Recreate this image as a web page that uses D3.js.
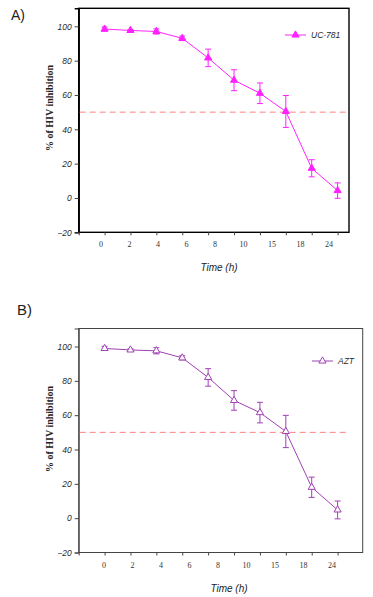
<!DOCTYPE html>
<html>
<head>
<meta charset="utf-8">
<script src="https://cdn.jsdelivr.net/npm/d3@7"></script>
<style>
  body { margin: 0; background: #fff; }
</style>
</head>
<body>
<div id="chart"></div>
<script>
// time points shown on the x axis
const timeLabels = ["0", "2", "4", "6", "8", "10", "15", "18", "24"];
const yTicks = [-20, 0, 20, 40, 60, 80, 100];

// % inhibition, UC-781
const ucMean = [98.4, 97.6, 97.0, 93.0, 81.6, 68.6, 61.0, 50.4, 17.3, 4.3];
const ucErr = [1.2, 0.6, 1.5, 1.3, 5.1, 6.1, 6.0, 9.3, 5.0, 4.5];

// % inhibition, AZT
const aztMean = [98.9, 98.0, 97.5, 93.4, 82.0, 68.6, 61.5, 50.5, 18.0, 4.8];
const aztErr = [1.2, 0.6, 1.8, 1.2, 5.1, 5.7, 6.0, 9.4, 5.9, 5.2];

const svg = d3.select("#chart")
  .append("svg")
    .attr("width", 373)
    .attr("height", 597);

function drawPanel(p) {
  const g = svg.append("g");

  const y = d3.scaleLinear()
      .domain([-20, 110.5])
      .range([p.bottom, p.bottom - 224]);

  // tick slots; the points sit on slots 1..10
  const x = d3.scaleLinear()
      .domain([0, 10.44])
      .range([p.left, p.axisRight]);

  // the printed time labels do not line up with the ticks
  const xl = d3.scalePoint()
      .domain(timeLabels)
      .range(p.labelRange);

  // frame
  g.append("rect")
      .attr("x", p.left)
      .attr("y", y(110.5))
      .attr("width", p.frameRight - p.left)
      .attr("height", p.bottom - y(110.5))
      .attr("fill", "none")
      .attr("stroke", p.frameColor)
      .attr("stroke-width", p.frameWidth);

  // y axis
  const yAxis = g.append("g")
      .attr("transform", "translate(" + p.left + ",0)")
      .call(d3.axisLeft(y).tickValues(yTicks).tickSize(4).tickPadding(3));
  yAxis.select(".domain").attr("stroke", p.frameColor).attr("stroke-width", p.frameWidth);
  yAxis.selectAll(".tick line").attr("stroke", "#444");
  yAxis.selectAll("text")
      .style("font-family", "Liberation Sans, Arial, sans-serif")
      .style("font-style", "italic")
      .style("font-size", "8.5px")
      .attr("fill", "#2a2a2a");

  // x axis ticks
  const xAxis = g.append("g")
      .attr("transform", "translate(0," + p.bottom + ")")
      .call(d3.axisBottom(x).tickValues(d3.range(0, 11)).tickSize(3).tickFormat(""));
  xAxis.select(".domain").remove();
  xAxis.selectAll(".tick line").attr("stroke", "#444");

  g.append("g")
    .selectAll("text")
    .data(timeLabels)
    .enter()
    .append("text")
      .attr("x", d => xl(d))
      .attr("y", p.bottom + 15)
      .attr("text-anchor", "middle")
      .style("font-family", "Liberation Serif, Times New Roman, serif")
      .style("font-size", "8px")
      .attr("fill", "#333")
      .text(d => d);

  // 50% reference line
  g.append("line")
      .attr("x1", p.left + 1)
      .attr("x2", p.axisRight)
      .attr("y1", y(50))
      .attr("y2", y(50))
      .attr("stroke", "#ff8080")
      .attr("stroke-width", 1)
      .attr("stroke-dasharray", "6,4");

  const pts = p.mean.map((m, i) => ({ i: i + 1, m: m, e: p.err[i] }));

  // line
  g.append("path")
      .datum(pts)
      .attr("fill", "none")
      .attr("stroke", p.color)
      .attr("stroke-width", 1)
      .attr("d", d3.line().x(d => x(d.i)).y(d => y(d.m)));

  // error bars
  const eb = g.append("g").attr("stroke", p.color).attr("stroke-width", 1);
  eb.selectAll(".v").data(pts).enter().append("line")
      .attr("x1", d => x(d.i)).attr("x2", d => x(d.i))
      .attr("y1", d => y(d.m - d.e)).attr("y2", d => y(d.m + d.e));
  [-1, 1].forEach(s => {
    eb.selectAll(".c" + s).data(pts).enter().append("line")
        .attr("x1", d => x(d.i) - 3).attr("x2", d => x(d.i) + 3)
        .attr("y1", d => y(d.m + s * d.e)).attr("y2", d => y(d.m + s * d.e));
  });

  // markers
  const tri = d3.symbol().type(d3.symbolTriangle).size(22);
  g.selectAll(".mk").data(pts).enter().append("path")
      .attr("d", tri)
      .attr("transform", d => "translate(" + x(d.i) + "," + y(d.m) + ")")
      .attr("fill", p.filled ? p.color : "#fff")
      .attr("stroke", p.color)
      .attr("stroke-width", 1);

  // legend
  g.append("line")
      .attr("x1", p.legendX).attr("x2", p.legendX + 21)
      .attr("y1", p.legendY).attr("y2", p.legendY)
      .attr("stroke", p.color).attr("stroke-width", 1);
  g.append("path")
      .attr("d", tri)
      .attr("transform", "translate(" + (p.legendX + 10.5) + "," + p.legendY + ")")
      .attr("fill", p.filled ? p.color : "#fff")
      .attr("stroke", p.color);
  g.append("text")
      .attr("x", p.legendX + 26)
      .attr("y", p.legendY + 3)
      .style("font-family", "Liberation Sans, Arial, sans-serif")
      .style("font-style", "italic")
      .style("font-size", "8.5px")
      .attr("fill", "#2a2a2a")
      .text(p.name);

  // axis titles
  g.append("text")
      .attr("text-anchor", "middle")
      .style("font-family", "Liberation Serif, Times New Roman, serif")
      .style("font-weight", "bold")
      .style("font-size", "10px")
      .attr("fill", "#222")
      .attr("transform", "translate(" + (p.left - 26) + "," + p.titleY + ") rotate(-90)")
      .text("% of HIV inhibition");

  g.append("text")
      .attr("x", p.timeX)
      .attr("y", p.bottom + 39)
      .attr("text-anchor", "middle")
      .style("font-family", "Liberation Sans, Arial, sans-serif")
      .style("font-style", "italic")
      .style("font-size", "10px")
      .attr("fill", "#222")
      .text("Time (h)");

  g.append("text")
      .attr("x", p.tagX)
      .attr("y", p.tagY)
      .style("font-family", "Liberation Sans, Arial, sans-serif")
      .style("font-size", p.tagSize)
      .attr("fill", "#222")
      .text(p.tag);
}

drawPanel({
  tag: "A)", tagX: 11, tagY: 20, tagSize: "14px",
  name: "UC-781", mean: ucMean, err: ucErr,
  color: "#ff22ff", filled: true,
  left: 78.7, bottom: 232.3, axisRight: 349, frameRight: 349,
  frameColor: "#000", frameWidth: 1.4,
  labelRange: [101, 329],
  legendX: 285, legendY: 35,
  titleY: 108, timeX: 219
});

drawPanel({
  tag: "B)", tagX: 17, tagY: 315, tagSize: "15px",
  name: "AZT", mean: aztMean, err: aztErr,
  color: "#a040b4", filled: false,
  left: 78.7, bottom: 552.5, axisRight: 349, frameRight: 362.7,
  frameColor: "#444", frameWidth: 1,
  labelRange: [104, 332],
  legendX: 312, legendY: 361,
  titleY: 429, timeX: 229
});
</script>
</body>
</html>
